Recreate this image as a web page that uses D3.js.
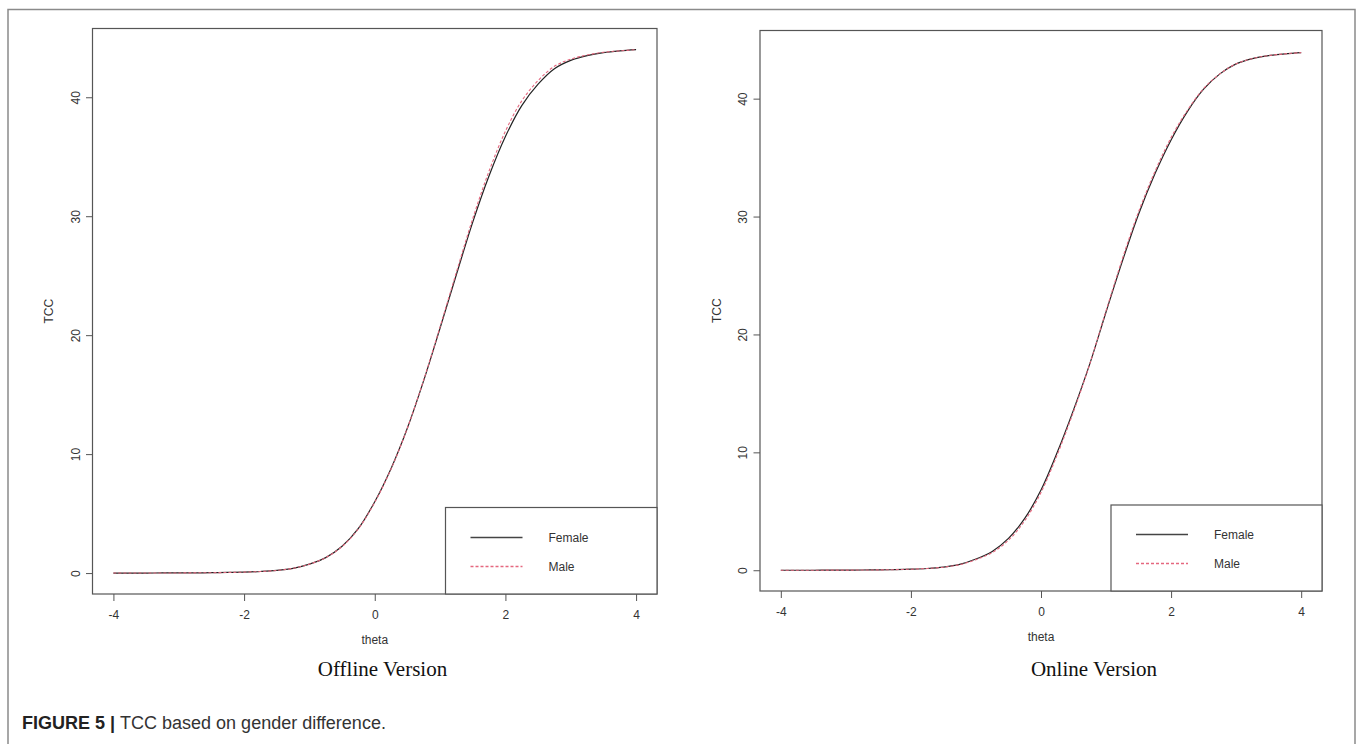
<!DOCTYPE html>
<html>
<head>
<meta charset="utf-8">
<title>TCC based on gender difference</title>
<script src="https://d3js.org/d3.v7.min.js"></script>
<style>
  body { margin: 0; background: #fff; }
  .tick text { font-family: "Liberation Sans Narrow", "Liberation Sans", Arial, sans-serif; font-size: 12px; fill: #333; }
  .tick line { stroke: #555; }
  .lab { font-family: "Liberation Sans Narrow", "Liberation Sans", Arial, sans-serif; font-size: 12px; fill: #333; }
  .ttl { font-family: "Liberation Serif", "Times New Roman", serif; font-size: 21px; fill: #111; }
  .cap { font-family: "Liberation Sans", Arial, sans-serif; font-size: 18px; fill: #333; }
</style>
</head>
<body>
<script>
// theta grid and TCC values
var theta = [-4, -3.75, -3.5, -3.25, -3, -2.75, -2.5, -2.25, -2, -1.75, -1.5, -1.25, -1, -0.75, -0.5, -0.25,
             0, 0.25, 0.5, 0.75, 1, 1.25, 1.5, 1.75, 2, 2.25, 2.5, 2.75, 3, 3.25, 3.5, 3.75, 4];

var offlineFemale = [0, 0, 0, 0.01, 0.01, 0.02, 0.03, 0.05, 0.08, 0.13, 0.22, 0.40, 0.75, 1.3, 2.25, 3.75,
                     6.0, 8.8, 12.2, 16.2, 20.6, 25.1, 29.5, 33.4, 36.7, 39.3, 41.1, 42.4, 43.1, 43.5, 43.75, 43.9, 44.0];
var offlineMale   = [0, 0, 0, 0.01, 0.01, 0.02, 0.03, 0.05, 0.08, 0.13, 0.22, 0.40, 0.75, 1.3, 2.23, 3.72,
                     5.95, 8.75, 12.2, 16.25, 20.7, 25.3, 29.8, 33.8, 37.15, 39.7, 41.4, 42.6, 43.2, 43.55, 43.78, 43.9, 44.0];
var onlineFemale  = [0, 0, 0, 0.01, 0.01, 0.02, 0.03, 0.05, 0.09, 0.15, 0.27, 0.50, 0.95, 1.6, 2.7, 4.4,
                     6.8, 10.0, 13.6, 17.5, 21.9, 26.2, 30.2, 33.6, 36.5, 38.9, 40.8, 42.1, 42.95, 43.4, 43.65, 43.8, 43.9];
var onlineMale    = [0, 0, 0, 0.01, 0.01, 0.02, 0.03, 0.05, 0.09, 0.15, 0.26, 0.48, 0.9, 1.5, 2.55, 4.2,
                     6.6, 9.8, 13.45, 17.5, 22.0, 26.4, 30.4, 33.8, 36.7, 39.0, 40.85, 42.1, 42.95, 43.4, 43.65, 43.8, 43.9];

var xTicks = [-4, -2, 0, 2, 4];
var yTicks = [0, 10, 20, 30, 40];
var seriesNames = ["Female", "Male"];
var panelTitles = ["Offline Version", "Online Version"];

var femaleColor = "#222", maleColor = "#E5687F";

var panels = [
  {title: panelTitles[0], female: offlineFemale, male: offlineMale,
   left: 92.5, top: 28.5, right: 657, bottom: 594, legLeft: 445.5, legTop: 507.5, titleX: 382.5},
  {title: panelTitles[1], female: onlineFemale, male: onlineMale,
   left: 760, top: 30.5, right: 1322, bottom: 591, legLeft: 1111, legTop: 505, titleX: 1094}
];

var width = 1360, height = 744;
var svg = d3.select("body").append("svg")
    .attr("width", width)
    .attr("height", height);

// outer figure frame
svg.append("rect")
    .attr("x", 8).attr("y", 9.5)
    .attr("width", 1347).attr("height", 780)
    .attr("fill", "none").attr("stroke", "#8a8a8a").attr("stroke-width", 1.5);

panels.forEach(function(p) {
  var x = d3.scaleLinear().domain([-4.32, 4.32]).range([p.left, p.right]);
  var y = d3.scaleLinear().domain([-1.76, 45.78]).range([p.bottom, p.top]);
  var g = svg.append("g");

  var line = d3.line()
      .x(function(d, i) { return x(theta[i]); })
      .y(function(d) { return y(d); })
      .curve(d3.curveCatmullRom.alpha(0.5));

  g.append("path").datum(p.female)
      .attr("d", line).attr("fill", "none")
      .attr("stroke", femaleColor).attr("stroke-width", 1.2);
  g.append("path").datum(p.male)
      .attr("d", line).attr("fill", "none")
      .attr("stroke", maleColor).attr("stroke-width", 1.1)
      .attr("stroke-dasharray", "3,2");

  // x axis
  var xa = g.append("g").attr("transform", "translate(0," + p.bottom + ")")
      .call(d3.axisBottom(x).tickValues(xTicks).tickSize(7).tickFormat(function(d) { return String(d); }));
  xa.select(".domain").remove();
  xa.selectAll(".tick text").attr("y", 24.5).attr("dy", 0);

  // y axis
  var ya = g.append("g").attr("transform", "translate(" + p.left + ",0)")
      .call(d3.axisLeft(y).tickValues(yTicks).tickSize(6.5).tickFormat(function(d) { return String(d); }));
  ya.select(".domain").remove();
  ya.selectAll(".tick text")
      .attr("x", null).attr("dy", null)
      .attr("text-anchor", "middle")
      .attr("transform", "translate(-13,0) rotate(-90)");

  // plot box
  g.append("rect")
      .attr("x", p.left).attr("y", p.top)
      .attr("width", p.right - p.left).attr("height", p.bottom - p.top)
      .attr("fill", "none").attr("stroke", "#555").attr("stroke-width", 1.2);

  // axis titles
  g.append("text").attr("class", "lab")
      .attr("x", (p.left + p.right) / 2).attr("y", p.bottom + 50)
      .attr("text-anchor", "middle").text("theta");
  g.append("text").attr("class", "lab")
      .attr("text-anchor", "middle")
      .attr("transform", "translate(" + (p.left - 39.5) + "," + ((p.top + p.bottom) / 2) + ") rotate(-90)")
      .text("TCC");

  // legend
  g.append("rect")
      .attr("x", p.legLeft).attr("y", p.legTop)
      .attr("width", p.right - p.legLeft).attr("height", p.bottom - p.legTop)
      .attr("fill", "#fff").attr("stroke", "#555").attr("stroke-width", 1.2);
  var leg = g.selectAll(".leg").data(seriesNames).enter().append("g")
      .attr("class", "leg")
      .attr("transform", function(d, i) { return "translate(" + p.legLeft + "," + (Math.round(p.legTop + 29 + i * 29) + 0.5) + ")"; });
  leg.append("line")
      .attr("x1", 25).attr("x2", 77)
      .attr("stroke", function(d, i) { return i === 0 ? "#444" : maleColor; })
      .attr("stroke-width", function(d, i) { return i === 0 ? 1.4 : 1.3; })
      .attr("stroke-dasharray", function(d, i) { return i === 0 ? null : "3,2"; });
  leg.append("text").attr("class", "lab")
      .attr("x", 103).attr("dy", "0.35em")
      .text(function(d) { return d; });

  // panel title
  svg.append("text").attr("class", "ttl")
      .attr("x", p.titleX).attr("y", 676)
      .attr("text-anchor", "middle").text(p.title);
});

// caption
var cap = svg.append("text").attr("class", "cap").attr("x", 22).attr("y", 729);
cap.append("tspan").attr("font-weight", "bold").attr("fill", "#222").text("FIGURE 5 | ");
cap.append("tspan").text("TCC based on gender difference.");
</script>
</body>
</html>
